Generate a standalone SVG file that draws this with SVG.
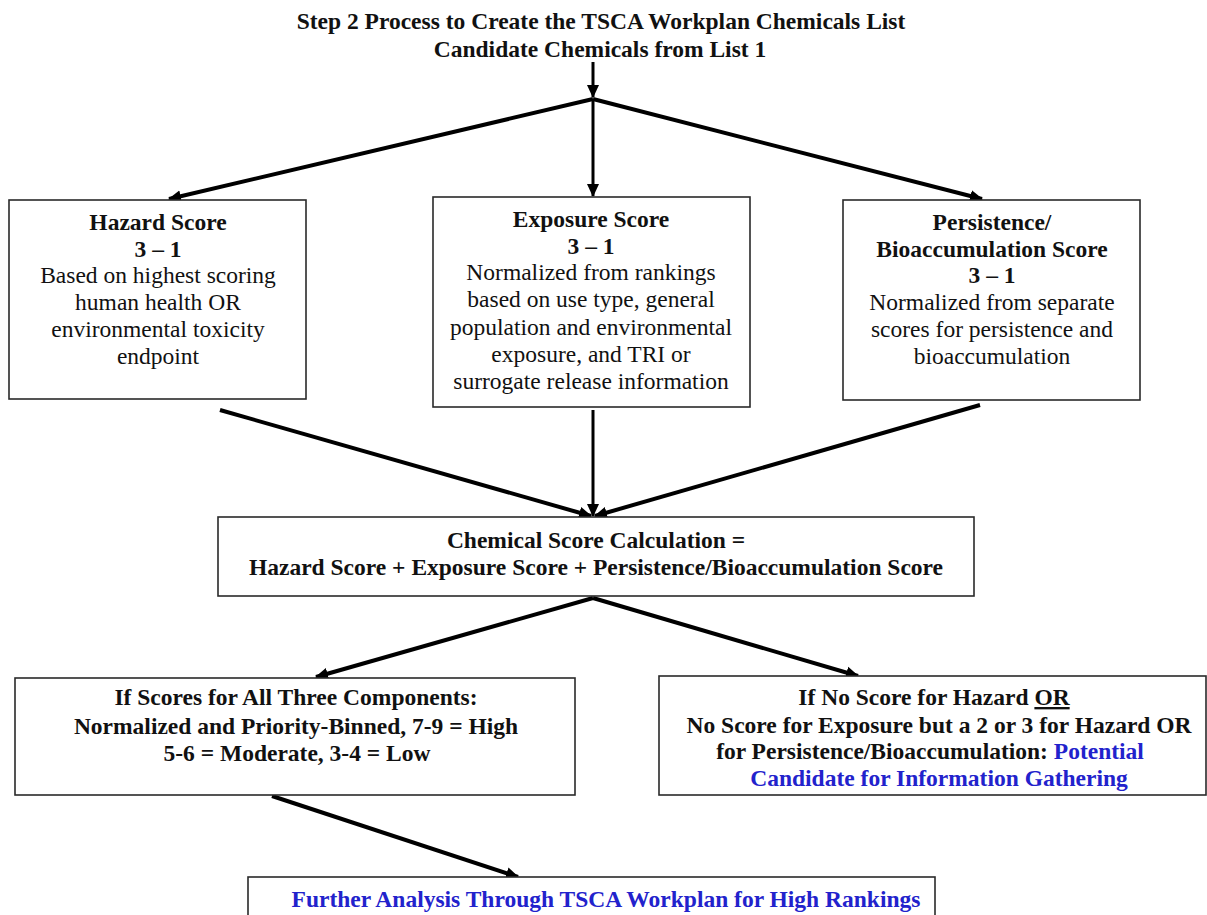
<svg xmlns="http://www.w3.org/2000/svg" width="1207" height="915" viewBox="0 0 1207 915" font-family="'Liberation Serif', 'Times New Roman', serif">
<style>
.bg{fill:#ffffff}
.box{fill:#ffffff;stroke:#2a2a2a;stroke-width:1.6}
text{font-family:'Liberation Serif','Times New Roman',serif;font-size:23.5px;fill:#111111;text-anchor:middle}
.b{font-weight:bold}
.blue{fill:#2222cc}
.c{fill:none;stroke:#000000;stroke-width:4}
.c3{fill:none;stroke:#000000;stroke-width:3}
</style>
<defs>
<marker id="ah" markerUnits="userSpaceOnUse" markerWidth="14" markerHeight="14" viewBox="0 0 14 14" refX="12" refY="7" orient="auto">
<path d="M0,1 L13,7 L0,13 z" fill="#000"/>
</marker>
</defs>
<rect class="bg" x="0" y="0" width="1207" height="915"/>
<g id="title">
<text class="b" x="601" y="29">Step 2 Process to Create the TSCA Workplan Chemicals List</text>
<text class="b" x="600" y="57">Candidate Chemicals from List 1</text>
</g>
<g id="connectors">
<path class="c3" d="M593,62 L593,97" marker-end="url(#ah)"/>
<path class="c" d="M593,99 L169,199" marker-end="url(#ah)"/>
<path class="c3" d="M593,99 L593,196" marker-end="url(#ah)"/>
<path class="c" d="M593,99 L982,199" marker-end="url(#ah)"/>
<path class="c" d="M220,410 L591,516" marker-end="url(#ah)"/>
<path class="c3" d="M593,410 L593,516" marker-end="url(#ah)"/>
<path class="c" d="M980,405 L595,516" marker-end="url(#ah)"/>
<path class="c" d="M593,598 L316,677" marker-end="url(#ah)"/>
<path class="c" d="M593,598 L858,676" marker-end="url(#ah)"/>
<path class="c" d="M272,796 L518,877" marker-end="url(#ah)"/>
</g>
<g id="hazard">
<rect class="box" x="9" y="200" width="297" height="199"/>
<text class="b" x="158" y="230">Hazard Score</text>
<text class="b" x="158" y="257">3 – 1</text>
<text x="158" y="283">Based on highest scoring</text>
<text x="158" y="310">human health OR</text>
<text x="158" y="337">environmental toxicity</text>
<text x="158" y="364">endpoint</text>
</g>
<g id="exposure">
<rect class="box" x="433" y="197" width="317" height="210"/>
<text class="b" x="591" y="227">Exposure Score</text>
<text class="b" x="591" y="254">3 – 1</text>
<text x="591" y="280">Normalized from rankings</text>
<text x="591" y="307">based on use type, general</text>
<text x="591" y="335">population and environmental</text>
<text x="591" y="362">exposure, and TRI or</text>
<text x="591" y="389">surrogate release information</text>
</g>
<g id="persistence">
<rect class="box" x="843" y="200" width="297" height="200"/>
<text class="b" x="992" y="230">Persistence/</text>
<text class="b" x="992" y="257">Bioaccumulation Score</text>
<text class="b" x="992" y="283">3 – 1</text>
<text x="992" y="310">Normalized from separate</text>
<text x="992" y="337">scores for persistence and</text>
<text x="992" y="364">bioaccumulation</text>
</g>
<g id="calculation">
<rect class="box" x="218" y="517" width="756" height="79"/>
<text class="b" x="596" y="548">Chemical Score Calculation =</text>
<text class="b" x="596" y="575">Hazard Score + Exposure Score + Persistence/Bioaccumulation Score</text>
</g>
<g id="all-three">
<rect class="box" x="15" y="678" width="560" height="117"/>
<text class="b" x="296" y="705">If Scores for All Three Components:</text>
<text class="b" x="296" y="734">Normalized and Priority-Binned, 7-9 = High</text>
<text class="b" x="297" y="761">5-6 = Moderate, 3-4 = Low</text>
</g>
<g id="no-score">
<rect class="box" x="659" y="676" width="547" height="119"/>
<text class="b" x="934" y="705">If No Score for Hazard <tspan text-decoration="underline">OR</tspan></text>
<text class="b" x="939" y="733">No Score for Exposure but a 2 or 3 for Hazard OR</text>
<text class="b" x="930" y="759">for Persistence/Bioaccumulation: <tspan class="blue">Potential</tspan></text>
<text class="b blue" x="939" y="786">Candidate for Information Gathering</text>
</g>
<g id="further">
<rect class="box" x="248" y="877" width="687" height="45"/>
<text class="b blue" x="606" y="907">Further Analysis Through TSCA Workplan for High Rankings</text>
</g>
</svg>
